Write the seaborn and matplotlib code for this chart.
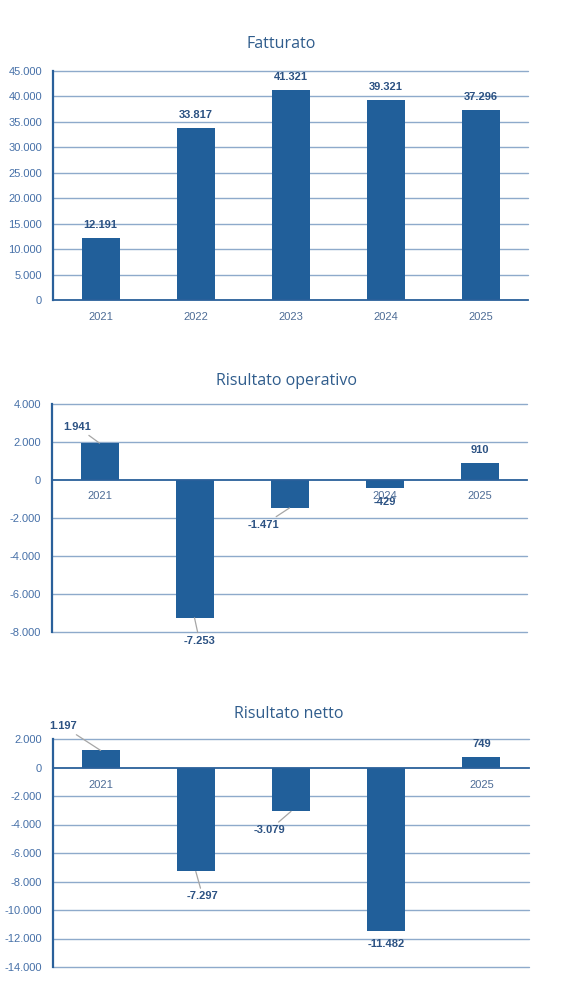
import matplotlib
matplotlib.use("Agg")
import matplotlib.pyplot as plt
from matplotlib.ticker import FixedLocator, FuncFormatter
import pandas as pd
import seaborn as sb

# data
anni = ["2021", "2022", "2023", "2024", "2025"]
fatturato = [12191, 33817, 41321, 39321, 37296]
risultato_operativo = [1941, -7253, -1471, -429, 910]
risultato_netto = [1197, -7297, -3079, -11482, 749]

titoli = ["Fatturato", "Risultato operativo", "Risultato netto"]

# colours
BAR = "#215F9A"
SPINE = "#2A609A"
GRID = "#8EAACB"
TICK_Y = "#4670A8"
TICK_X = "#4D6C96"
LABEL = "#2C5283"
TITLE = "#2F5C8C"
LEADER = "#A6A6A6"

sb.set_theme(style="white")
plt.rcParams["font.family"] = ["Liberation Sans", "DejaVu Sans"]

fig = plt.figure(figsize=(5.79, 10.06), dpi=100)
W, H = 579, 1006


def fmt(v):
    return f"{v:,.0f}".replace(",", ".")


def make_axes(left, top, right, bottom):
    return fig.add_axes([left / W, 1 - bottom / H, (right - left) / W, (bottom - top) / H])


# (pixel box, y range, y step, title pos, x label pad, label offsets in px)
panels = [
    dict(box=(53, 71, 528, 300), ylim=(0, 45000), step=5000, title=(281, 44),
         vals=fatturato, pad=9,
         offs=[(0, 13), (0, 13), (0, 13), (0, 13), (0, 13)], lead=[False] * 5),
    dict(box=(52, 404, 527, 632), ylim=(-8000, 4000), step=2000, title=(286, 381),
         vals=risultato_operativo, pad=8,
         offs=[(-22, 16), (5, -23), (-26, -17), (0, -14), (0, 13)],
         lead=[True, True, True, False, False]),
    dict(box=(53, 739, 529, 967), ylim=(-14000, 2000), step=2000, title=(289, 714),
         vals=risultato_netto, pad=9,
         offs=[(-37, 24), (7, -25), (-22, -19), (0, -13), (0, 13)],
         lead=[True, True, True, False, False]),
]

for p, titolo in zip(panels, titoli):
    ax = make_axes(*p["box"])
    df = pd.DataFrame({"anno": anni, "valore": p["vals"]})
    sb.barplot(data=df, x="anno", y="valore", color=BAR, saturation=1,
               width=0.4, linewidth=0, ax=ax, zorder=3)

    lo, hi = p["ylim"]
    ax.set_ylim(lo, hi)
    ax.set_xlim(-0.5, 4.5)
    yt = list(range(lo, hi + 1, p["step"]))
    ax.yaxis.set_major_locator(FixedLocator(yt))
    ax.yaxis.set_major_formatter(FuncFormatter(lambda v, _: fmt(v)))
    ax.set_xlabel("")
    ax.set_ylabel("")

    # horizontal grid, zero line drawn by the bottom spine
    for v in yt:
        if v != 0:
            ax.axhline(v, color=GRID, lw=1.0, zorder=1, clip_on=False)

    for s in ["top", "right"]:
        ax.spines[s].set_visible(False)
    ax.spines["left"].set_color(SPINE)
    ax.spines["left"].set_linewidth(1.6)
    ax.spines["left"].set_zorder(4)
    ax.spines["bottom"].set_color(SPINE)
    ax.spines["bottom"].set_linewidth(1.3)
    ax.spines["bottom"].set_position(("data", 0))
    ax.spines["bottom"].set_zorder(4)

    ax.tick_params(axis="y", length=0, pad=8, labelsize=8, labelcolor=TICK_Y)
    ax.tick_params(axis="x", which="major", length=0, pad=p["pad"], labelsize=8,
                   labelcolor=TICK_X)
    ax.xaxis.set_minor_locator(FixedLocator([0.5, 1.5, 2.5, 3.5, 4.5]))
    ax.tick_params(axis="x", which="minor", length=4, width=1.2, color=SPINE,
                   direction="out")

    # data labels
    for i, v in enumerate(p["vals"]):
        arrow = dict(arrowstyle="-", color=LEADER, lw=0.9, shrinkA=0, shrinkB=0) \
            if p["lead"][i] else None
        ax.annotate(fmt(v), xy=(i, v), xytext=p["offs"][i], textcoords="offset pixels",
                    ha="center", va="center", fontsize=8, fontweight="bold",
                    color=LABEL, arrowprops=arrow, zorder=5,
                    annotation_clip=False)

    tx, ty = p["title"]
    fig.text(tx / W, 1 - ty / H, titolo, ha="center", va="center", fontsize=11.5,
             color=TITLE, family=["Open Sans", "DejaVu Sans"])

fig.savefig("out.png", dpi=100)
